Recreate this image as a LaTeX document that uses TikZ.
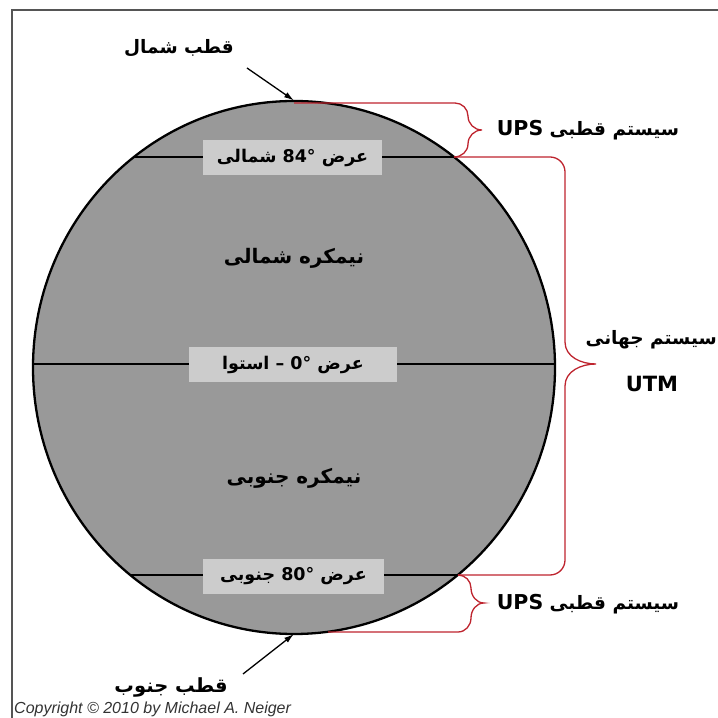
\documentclass[tikz,border=0pt]{standalone}
\usepackage{fontspec}
\usetikzlibrary{arrows.meta,shapes.geometric}
\TeXXeTstate=1
\newfontfamily\fa[Script=Arabic]{DejaVu Sans}
\newfontfamily\lat{DejaVu Sans}
\setsansfont{Liberation Sans}
\definecolor{globe}{RGB}{153,153,153}
\definecolor{labbox}{RGB}{204,204,204}
\definecolor{bracered}{RGB}{190,36,46}
\definecolor{framegray}{RGB}{85,85,85}
\newcommand{\fs}[1]{\fontsize{#1}{#1}\selectfont}
\newcommand{\latdeg}[1]{\beginL\hbox{\lat\bfseries #1}\hbox{\lat\bfseries °}\endL}
\begin{document}
\begin{tikzpicture}[x=1pt,y=1pt,
  fatext/.style={font=\fa\bfseries\fs{17.5}, inner sep=0pt},
  bigtext/.style={font=\fa\bfseries\fs{19}, inner sep=0pt},
  latbox/.style={fill=labbox, inner sep=0pt, minimum height=35pt},
  brace/.style={draw=bracered, line width=1.3pt},
  pointer/.style={draw=black, line width=1.3pt, -{Latex[length=10pt,width=6pt]}},
  latline/.style={draw=black, line width=1.5pt}]
\useasboundingbox (0,0) rectangle (718,718);
\clip (0,0) rectangle (718,718);
% frame
\draw[framegray, line width=2.5pt] (12,-2) -- (12,708) -- (720,708);
% globe
\node[draw=black, line width=2.3pt, fill=globe, ellipse, minimum width=522pt, minimum height=533pt, inner sep=0pt] (globe) at (294,350.5) {};
% key points
\coordinate (N) at (294,617.5);
\coordinate (S) at (294,84);
\coordinate (L84) at (134,561);
\coordinate (R84) at (454,561);
\coordinate (L0) at (33,354);
\coordinate (R0) at (555,354);
\coordinate (L80) at (130,143);
\coordinate (R80) at (458,143);
\coordinate (Sb) at (328,86);
% latitude lines
\draw[latline] (L84) -- (R84);
\draw[latline] (L0) -- (R0);
\draw[latline] (L80) -- (R80);
% latitude labels
\node[latbox, minimum width=179pt] (b84) at (292.5,560) {};
\node[fatext] (t84) at (292.5,560) {\beginR عرض \latdeg{84}{} شمالی\endR};
\node[latbox, minimum width=208pt] (b0) at (293,353.5) {};
\node[fatext] (t0) at (293,353.5) {\beginR عرض \latdeg{0}{} – استوا\endR};
\node[latbox, minimum width=181pt] (b80) at (293.5,141.5) {};
\node[fatext] (t80) at (293.5,141.5) {\beginR عرض \latdeg{80}{} جنوبی\endR};
% hemispheres
\node[bigtext, font=\fa\bfseries\fs{20}] (nh) at (294,460) {\beginR نیمکره شمالی\endR};
\node[bigtext, font=\fa\bfseries\fs{20}] (sh) at (294,240) {\beginR نیمکره جنوبی\endR};
% poles
\node[bigtext, font=\fa\bfseries\fs{18.5}] (np) at (179,670) {\beginR قطب شمال\endR};
\coordinate (npA) at (247,650);
\draw[pointer] (npA) -- (N);
\node[bigtext, font=\fa\bfseries\fs{19.5}] (sp) at (171,31) {\beginR قطب جنوب\endR};
\coordinate (spA) at (243,44);
\draw[pointer] (spA) -- (S);
% braces
\coordinate (T1) at (294,615);
\draw[brace] (T1) -- (455,615) to[out=0,in=90] (468,602) -- (468,602)
  to[out=-90,in=180] (482,588) to[out=180,in=90] (468,574)
  to[out=-90,in=0] (R84);
\draw[brace] (R84) -- (550,561) to[out=0,in=90] (565,546) -- (565,376)
  to[out=-90,in=180] (596,354) to[out=180,in=90] (565,332) -- (565,158)
  to[out=-90,in=0] (550,143) -- (R80);
\draw[brace] (R80) to[out=0,in=90] (471,130)
  to[out=-90,in=180] (484,115) to[out=180,in=90] (471,100)
  to[out=-90,in=0] (458,86) -- (Sb);
% system labels
\node[bigtext, font=\fa\bfseries\fs{18.5}] (upsN) at (588,588) {\beginR سیستم قطبی \beginL{\lat\bfseries\fs{20.5}UPS}\endL\endR};
\node[bigtext, font=\fa\bfseries\fs{18.5}, anchor=east] (utm1) at (717,378) {\beginR سیستم جهانی\endR};
\node[bigtext, font=\lat\bfseries\fs{21}] (utm2) at (652,334) {UTM};
\node[bigtext, font=\fa\bfseries\fs{18.5}] (upsS) at (588,114) {\beginR سیستم قطبی \beginL{\lat\bfseries\fs{20.5}UPS}\endL\endR};
% copyright
\node[anchor=base west, inner sep=0pt, font=\sffamily\itshape\fs{16}, text=black!80] (copy) at (14,5) {Copyright © 2010 by Michael A. Neiger};
\end{tikzpicture}
\end{document}
